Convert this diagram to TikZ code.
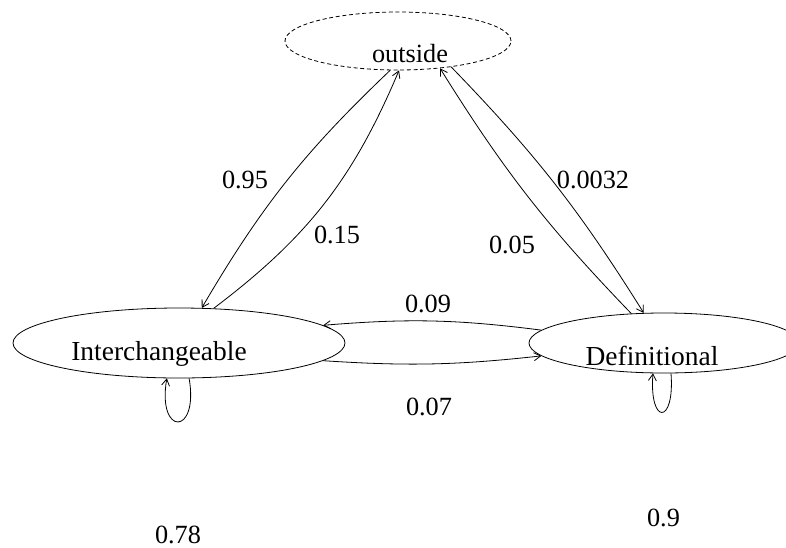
\documentclass[tikz,border=0pt]{standalone}
\usepackage{fontspec}
\setmainfont{Liberation Serif}
\usetikzlibrary{arrows.meta,shapes.geometric}

\tikzset{
  state/.style={draw, ellipse, inner sep=0pt, line width=0.6pt},
  txt/.style={anchor=base, inner sep=0pt, font=\fontsize{19.7}{23}\selectfont},
  bigtxt/.style={txt, font=\fontsize{20.6}{24}\selectfont},
  trans/.style={->, line width=0.6pt},
  >={Straight Barb[length=5pt,width=6pt]}
}

\begin{document}
\begin{tikzpicture}[x=0.75pt,y=0.75pt,yscale=-1,xscale=1]
    \useasboundingbox (0,0) rectangle (786,547);
    \clip (0,0) rectangle (786,547);

    % States
    \node [state, dash pattern={on 3pt off 2pt}, minimum width=169.5pt, minimum height=43.5pt] (outside) at (398,41) {};
    \node [state, minimum width=249pt, minimum height=52.5pt] (inter) at (179,343) {};
    \node [state, minimum width=202.5pt, minimum height=45pt] (def) at (664,343) {};

    % State names
    \node [txt] (outside-name) at (410,62) {outside};
    \node [bigtxt] (inter-name) at (159,360.5) {Interchangeable};
    \node [bigtxt] (def-name) at (652,365) {Definitional};

    % Transitions
    \draw [trans] (outside.255) to [bend left=8] (inter.57);
    \draw [trans] (inter.45) to [bend left=15] (outside.272);
    \draw [trans] (outside.334) to [bend right=6] (def.124);
    \draw [trans] (def.138) to [bend right=6] (outside.327);
    \draw [trans] (def.174) to [bend left=6] (inter.7);
    \draw [trans] (inter.353) to [bend left=5] (def.186);

    % Self loops
    \draw [trans] (inter.286) .. controls +(10,58) and +(-10,58) .. (inter.251);
    \draw [trans] (def.283) .. controls +(4,52) and +(-4,52) .. (def.250);

    % Probabilities
    \node [txt] (p-out-inter) at (245,188) {0.95};
    \node [txt] (p-inter-out) at (337,243) {0.15};
    \node [txt] (p-out-def) at (593,188) {0.0032};
    \node [txt] (p-def-out) at (512,253) {0.05};
    \node [txt] (p-def-inter) at (428,312) {0.09};
    \node [txt] (p-inter-def) at (429,415) {0.07};
    \node [txt] (p-inter-inter) at (178,543) {0.78};
    \node [txt] (p-def-def) at (663.5,526) {0.9};
\end{tikzpicture}
\end{document}
